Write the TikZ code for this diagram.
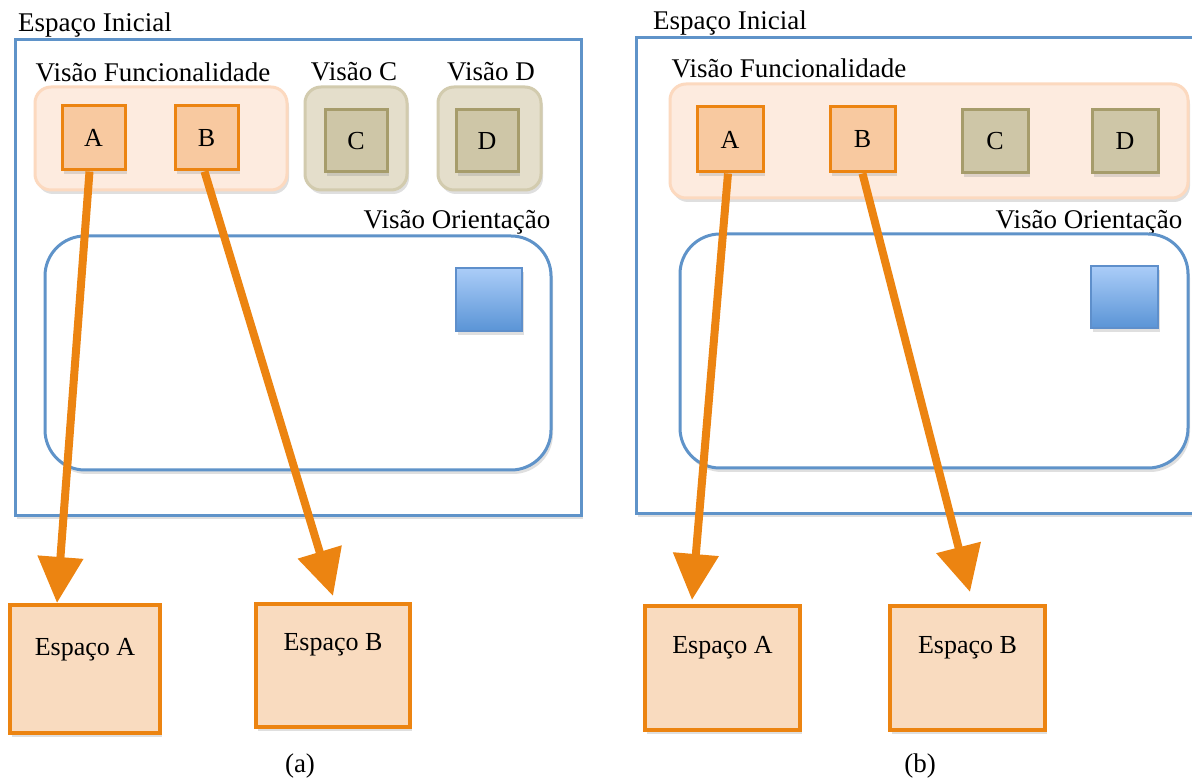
\documentclass[tikz,border=0pt]{standalone}
\usepackage{fontspec}
\setmainfont{Liberation Serif}
\newfontfamily\diagfont{Liberation Serif}
\usetikzlibrary{arrows.meta,shadows}

\definecolor{blueline}{HTML}{5F93C9}
\definecolor{orangeline}{HTML}{EC8411}
\definecolor{featfill}{HTML}{F8C9A0}
\definecolor{targetfill}{HTML}{F9DBBF}
\definecolor{funcfill}{HTML}{FDEBDF}
\definecolor{funcline}{HTML}{FCD9BF}
\definecolor{tanfill}{HTML}{E4DECB}
\definecolor{tanline}{HTML}{D2CBAE}
\definecolor{taninner}{HTML}{CEC6A7}
\definecolor{tandark}{HTML}{A69C6B}
\definecolor{skytop}{HTML}{ABCDF8}
\definecolor{skybottom}{HTML}{5A94D6}
\definecolor{skyline}{HTML}{5E8FCB}

\tikzset{
  shade box/.style={drop shadow={opacity=0.25, shadow xshift=2pt, shadow yshift=-4pt}},
  lbl/.style={font=\diagfont\fontsize{27}{31}\selectfont, inner sep=0pt},
  boxtext/.style={font=\diagfont\fontsize{26}{30}\selectfont},
  inicial/.style={draw=blueline, line width=3pt, fill=white, inner sep=0pt, shade box},
  funcpanel/.style={draw=funcline, fill=funcfill, line width=3pt, rounded corners=16pt, inner sep=0pt, shade box},
  tanpanel/.style={draw=tanline, fill=tanfill, line width=3pt, rounded corners=16pt, inner sep=0pt, shade box},
  featbox/.style={draw=orangeline, fill=featfill, line width=3pt, inner sep=0pt, boxtext, shade box},
  tanbox/.style={draw=tandark, fill=taninner, line width=3pt, inner sep=0pt, boxtext, shade box},
  orient/.style={draw=blueline, fill=white, line width=3pt, rounded corners=40pt, inner sep=0pt, shade box},
  bluesq/.style={draw=skyline, top color=skytop, bottom color=skybottom, line width=2.5pt, inner sep=0pt, shade box},
  target/.style={draw=orangeline, fill=targetfill, line width=4pt, inner sep=0pt, boxtext, shade box},
  flow/.style={draw=orangeline, line width=8pt, -{Triangle[width=44pt,length=46pt]}, orangeline},
}

\begin{document}
\begin{tikzpicture}[x=1pt,y=-1pt]
\useasboundingbox (0,0) rectangle (1192,783);

% ---------------- (a) ----------------
\node[inicial, minimum width=566pt, minimum height=475pt] (iniA) at (298,277.5) {};
\node[lbl] (iniAlbl) at (95,25) {Espaço Inicial};

\node[lbl] (funcAlbl) at (153,72) {Visão Funcionalidade};
\node[lbl] (visCAlbl) at (354,72) {Visão C};
\node[lbl] (visDAlbl) at (491,72) {Visão D};

\node[funcpanel, minimum width=252pt, minimum height=103pt] (funcA) at (161,138.5) {};
\node[featbox, minimum width=63pt, minimum height=64pt] (Aa) at (93.5,138) {A};
\node[featbox, minimum width=63pt, minimum height=64pt] (Ba) at (206.5,138) {B};

\node[tanpanel, minimum width=102pt, minimum height=103pt] (panCa) at (356,138.5) {};
\node[tanbox, minimum width=62pt, minimum height=62pt] (Ca) at (356,141) {C};
\node[tanpanel, minimum width=103pt, minimum height=103pt] (panDa) at (489.5,138.5) {};
\node[tanbox, minimum width=62pt, minimum height=62pt] (Da) at (487,141) {D};

\node[lbl] (oriAlbl) at (457,222) {Visão Orientação};
\node[orient, minimum width=506pt, minimum height=234pt] (oriA) at (298,353) {};
\node[bluesq, minimum width=66pt, minimum height=63pt] (sqA) at (489,299.5) {};

\node[target, minimum width=150pt, text height=50pt, text depth=78pt] (EAa) at (85,669) {Espaço A};
\node[target, minimum width=154pt, text height=46pt, text depth=77pt] (EBa) at (333,665.5) {Espaço B};

\coordinate (tipAa) at (57,603);
\coordinate (tipBa) at (333,596);
\draw[flow] ([xshift=-4pt]Aa.south) -- (tipAa);
\draw[flow] ([xshift=-2pt]Ba.south) -- (tipBa);

\node[lbl] (capA) at (300,766) {(a)};

% ---------------- (b) ----------------
\node[inicial, minimum width=564pt, minimum height=475pt] (iniB) at (918,275.5) {};
\node[lbl] (iniBlbl) at (730,23) {Espaço Inicial};

\node[lbl] (funcBlbl) at (789,68) {Visão Funcionalidade};
\node[funcpanel, minimum width=518pt, minimum height=114pt] (funcB) at (929,141) {};
\node[featbox, minimum width=66pt, minimum height=65pt] (Ab) at (730,139.5) {A};
\node[featbox, minimum width=65pt, minimum height=65pt] (Bb) at (862.5,139.5) {B};
\node[tanbox, minimum width=66pt, minimum height=63pt] (Cb) at (995,141.5) {C};
\node[tanbox, minimum width=66pt, minimum height=63pt] (Db) at (1125,141.5) {D};

\node[lbl] (oriBlbl) at (1089,222) {Visão Orientação};
\node[orient, minimum width=508pt, minimum height=234pt] (oriB) at (934,351) {};
\node[bluesq, minimum width=67pt, minimum height=62pt] (sqB) at (1124.5,297) {};

\node[target, minimum width=155pt, text height=47pt, text depth=77pt] (EAb) at (722.5,668) {Espaço A};
\node[target, minimum width=155pt, text height=47pt, text depth=77pt] (EBb) at (967.5,668) {Espaço B};

\coordinate (tipAb) at (692,600);
\coordinate (tipBb) at (970,592);
\draw[flow] ([xshift=-2pt]Ab.south) -- (tipAb);
\draw[flow] (Bb.south) -- (tipBb);

\node[lbl] (capB) at (920,766) {(b)};
\end{tikzpicture}
\end{document}
